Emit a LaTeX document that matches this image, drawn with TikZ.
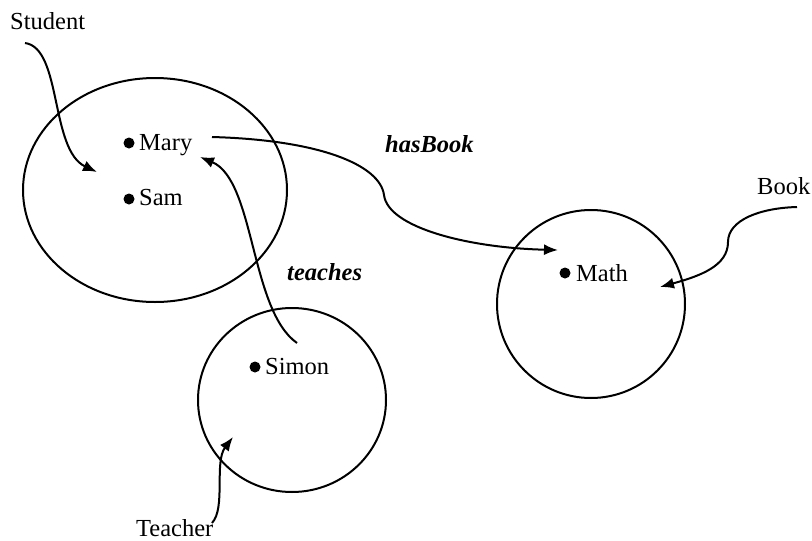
\documentclass[tikz,border=0pt]{standalone}
\usepackage{fontspec}
\setmainfont{Liberation Serif}
\usetikzlibrary{arrows.meta,shapes.geometric}
\begin{document}
\begin{tikzpicture}[x=1pt,y=-1pt,
  setring/.style={draw,ellipse,line width=2pt,inner sep=0pt},
  member/.style={circle,fill,inner sep=0pt,minimum size=11pt},
  lbl/.style={inner sep=0pt,anchor=base west,font=\fontsize{24.5}{29}\selectfont},
  rel/.style={inner sep=0pt,anchor=base west,font=\fontsize{24.5}{29}\selectfont\bfseries\itshape},
  link/.style={line width=2pt,-{Latex[length=14pt,width=11pt]}}]
\useasboundingbox (0,0) rectangle (812,541);

% the three classes
\node[setring,minimum width=264pt,minimum height=224pt] (studentset) at (155,190) {};
\node[setring,minimum width=188pt,minimum height=184pt] (teacherset) at (292,400) {};
\node[setring,minimum width=188pt,minimum height=188pt] (bookset) at (591,304) {};

% individuals
\node[member] (marydot) at (129,143) {};
\node[lbl] (mary) at (139,150) {Mary};
\node[member] (samdot) at (129,199) {};
\node[lbl] (sam) at (139,205) {Sam};
\node[member] (simondot) at (255,367) {};
\node[lbl] (simon) at (265,374) {Simon};
\node[member] (mathdot) at (565,273) {};
\node[lbl] (math) at (576,281) {Math};

% class names
\node[lbl] (student) at (10,29) {Student};
\node[lbl] (teacher) at (136,536) {Teacher};
\node[lbl] (book) at (757,194) {Book};

% property names
\node[rel] (hasbook) at (385,152) {hasBook};
\node[rel] (teaches) at (287,280) {teaches};

% connector end points
\coordinate (stu0) at (25,43);
\coordinate (stu1) at (97,172);
\coordinate (tea0) at (212,523);
\coordinate (tea1) at (233,437);
\coordinate (bk0) at (797,207);
\coordinate (bkm) at (728,242);
\coordinate (bk1) at (660,287);
\coordinate (hb0) at (212,137);
\coordinate (hbm) at (384,195);
\coordinate (hb1) at (558,250);
\coordinate (tc0) at (297,343);
\coordinate (tc1) at (200,157);

% instance-of arrows
\draw[link] (stu0) .. controls (62,48) and (50,150) .. (stu1);
\draw[link] (tea0) .. controls (226,508) and (214,462) .. (tea1);
\draw[link] (bk0) .. controls (760,208) and (728,220) .. (bkm)
                 .. controls (728,266) and (700,276) .. (bk1);

% property arrows
\draw[link] (hb0) .. controls (320,140) and (380,165) .. (hbm)
                 .. controls (388,228) and (470,248) .. (hb1);
\draw[link] (tc0) .. controls (250,310) and (255,180) .. (tc1);
\end{tikzpicture}
\end{document}
